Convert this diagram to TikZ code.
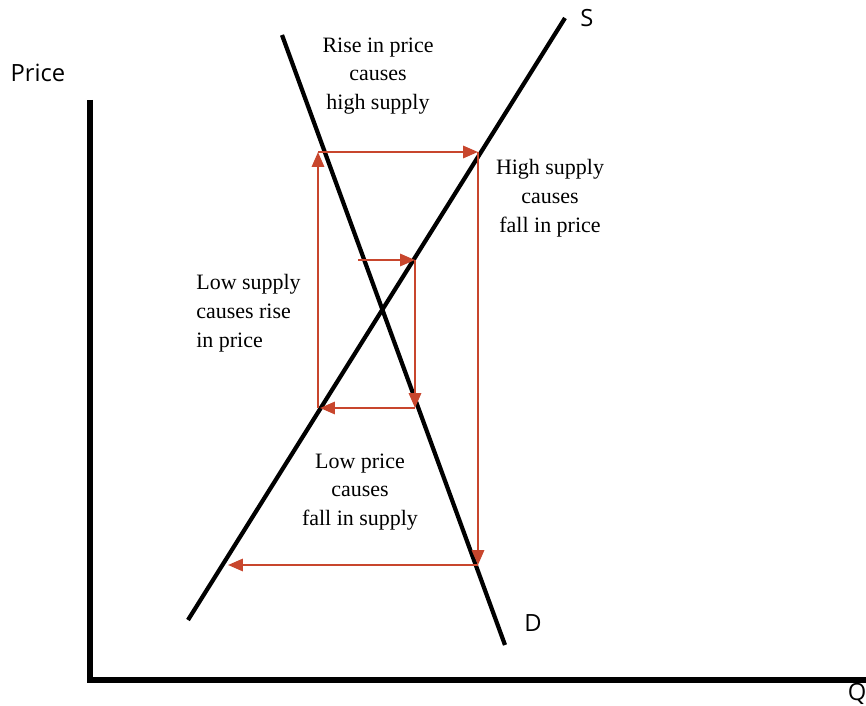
\documentclass[tikz,border=0pt]{standalone}
\usepackage{fontspec}
\setmainfont{Liberation Serif}
\newfontfamily\axisfont{Open Sans}
\usetikzlibrary{arrows.meta}
\definecolor{cobweb}{HTML}{C8462D}

\begin{document}
\begin{tikzpicture}[x=0.02cm, y=-0.02cm, >={Triangle[length=8.5pt, width=7pt]},
  curve/.style={line width=2.4pt, black},
  step arrow/.style={->, cobweb, line width=1.3pt},
  explain/.style={font=\fontsize{12.5}{16.4}\selectfont, align=center, inner sep=0pt},
  axislabel/.style={font=\axisfont\fontsize{13.5}{15}\selectfont, inner sep=0pt}]
\useasboundingbox (0,0) rectangle (866,706);
% axes
\coordinate (ytop) at (90,100);
\coordinate (origin) at (90,680);
\coordinate (xend) at (866,680);
\draw[line width=3.4pt] (ytop) -- (origin) -- (xend);
% supply and demand
\coordinate (s0) at (188,620);
\coordinate (s1) at (565,18);
\coordinate (d0) at (282,35);
\coordinate (d1) at (505,645);
\draw[curve] (s0) -- (s1);
\draw[curve] (d0) -- (d1);
% outer cycle
\coordinate (o1) at (318,408);
\coordinate (o2) at (318,152);
\coordinate (o3) at (478,152);
\coordinate (o4) at (478,565);
\coordinate (o5) at (228,565);
\draw[step arrow] (o1) -- (o2);
\draw[step arrow] (o2) -- (o3);
\draw[step arrow] (o3) -- (o4);
\draw[step arrow] (o4) -- (o5);
% inner cycle
\coordinate (i1) at (358,260);
\coordinate (i2) at (415,260);
\coordinate (i3) at (415,408);
\coordinate (i4) at (320,408);
\draw[step arrow] (i1) -- (i2);
\draw[step arrow] (i2) -- (i3);
\draw[step arrow] (i3) -- (i4);
% texts
\node[explain] (rise) at (378,76) {Rise in price\\causes\\high supply};
\node[explain] (high) at (550,198) {High supply\\causes\\fall in price};
\node[explain, align=left, anchor=west] (low) at (196,313) {Low supply\\causes rise\\in price};
\node[explain] (lowprice) at (360,492) {Low price\\causes\\fall in supply};
\node[axislabel] (price) at (38,73) {Price};
\node[axislabel] (slabel) at (587,18) {S};
\node[axislabel] (dlabel) at (533,623) {D};
\node[axislabel] (qlabel) at (857,694) {Q};
\end{tikzpicture}
\end{document}
